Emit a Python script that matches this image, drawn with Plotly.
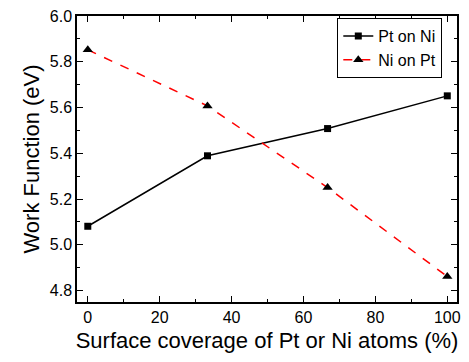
import plotly.graph_objects as go

coverage = [0, 33.3, 66.7, 100]
pt_on_ni = [5.081, 5.389, 5.508, 5.651]
ni_on_pt = [5.852, 5.607, 5.25, 4.861]

x_ticks = [0, 20, 40, 60, 80, 100]
x_minor = [10, 30, 50, 70, 90]
y_ticks = [4.8, 5.0, 5.2, 5.4, 5.6, 5.8, 6.0]
y_ticklabels = ["4.8", "5.0", "5.2", "5.4", "5.6", "5.8", "6.0"]
y_minor = [4.9, 5.1, 5.3, 5.5, 5.7, 5.9]

fig = go.Figure()
fig.add_trace(go.Scatter(
    x=coverage, y=pt_on_ni, name="Pt on Ni", mode="lines+markers",
    line=dict(color="black", width=1.5),
    marker=dict(symbol="square", size=7, color="black"),
))
fig.add_trace(go.Scatter(
    x=coverage, y=ni_on_pt, name="Ni on Pt", mode="lines+markers",
    line=dict(color="red", width=1.5, dash="dash"),
    marker=dict(symbol="triangle-up", size=9, color="black"),
))

font = "Liberation Sans, Arial, sans-serif"
fig.update_layout(
    width=469, height=362,
    margin=dict(l=77, r=8, t=15, b=60),
    paper_bgcolor="white", plot_bgcolor="white",
    font=dict(family=font, color="black", size=16),
    showlegend=True,
    legend=dict(x=0.685, y=0.993, xanchor="left", yanchor="top",
                bordercolor="black", borderwidth=1, bgcolor="white",
                font=dict(size=16), tracegroupgap=0, itemwidth=30),
)
fig.update_xaxes(
    range=[-3, 102.7], tickvals=x_ticks,
    showgrid=False, zeroline=False,
    showline=True, linecolor="black", linewidth=1.5, mirror="ticks",
    ticks="inside", ticklen=6, tickwidth=1, tickcolor="black",
    minor=dict(tickvals=x_minor, ticks="inside", ticklen=3, tickcolor="black"),
    tickfont=dict(size=16),
    title=dict(text="Surface coverage of Pt or Ni atoms (%)", font=dict(size=22), standoff=8),
)
fig.update_yaxes(
    range=[4.75, 6.0], tickvals=y_ticks, ticktext=y_ticklabels,
    showgrid=False, zeroline=False,
    showline=True, linecolor="black", linewidth=1.5, mirror="ticks",
    ticks="inside", ticklen=6, tickwidth=1, tickcolor="black",
    minor=dict(tickvals=y_minor, ticks="inside", ticklen=3, tickcolor="black"),
    tickfont=dict(size=16),
    title=dict(text="Work Function (eV)", font=dict(size=22), standoff=4),
)

fig.write_html("out.html")
